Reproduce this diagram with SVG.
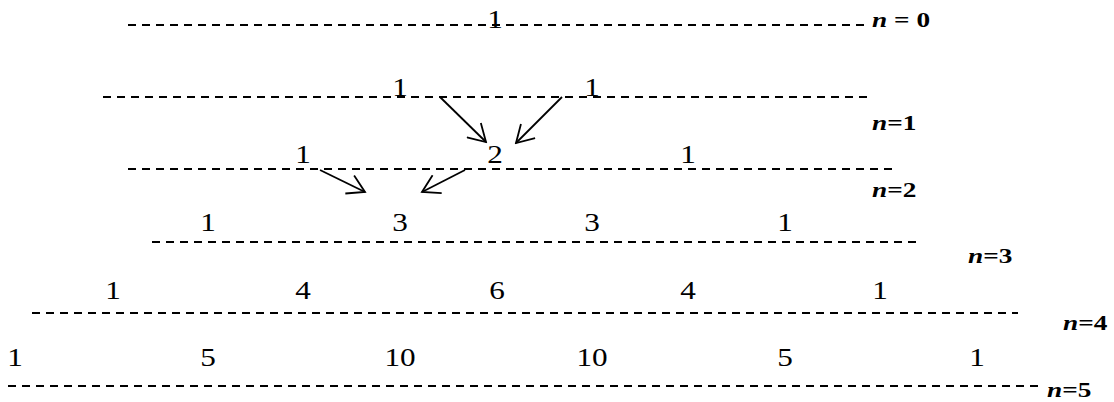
<svg xmlns="http://www.w3.org/2000/svg" width="1114" height="402" viewBox="0 0 1114 402">
<defs>
<style>
.row{stroke:#000;stroke-width:2;stroke-dasharray:8 6;fill:none}
.num{font-family:'Liberation Serif','DejaVu Serif',serif;font-size:26px;fill:#000;text-anchor:middle}
.lab{font-family:'Liberation Serif','DejaVu Serif',serif;font-size:21px;font-weight:bold;fill:#000}
.it{font-style:italic}
.arr{stroke:#000;stroke-width:1.8;fill:none;marker-end:url(#head)}
</style>
<marker id="head" viewBox="0 0 22 22" refX="20" refY="11" markerWidth="22" markerHeight="22" markerUnits="userSpaceOnUse" orient="auto">
<path d="M3,1 L20,11 L3,21" fill="none" stroke="#000" stroke-width="1.8"/>
</marker>
</defs>
<rect width="1114" height="402" fill="#fff"/>
<g id="rows">
<line class="row" x1="128" y1="25" x2="868" y2="25"/>
<line class="row" x1="103" y1="97" x2="868" y2="97"/>
<line class="row" x1="128" y1="169" x2="892" y2="169"/>
<line class="row" x1="152" y1="242" x2="917" y2="242"/>
<line class="row" x1="32" y1="313" x2="1018" y2="313"/>
<line class="row" x1="8" y1="386" x2="1038" y2="386"/>
</g>
<g id="connectors">
<line class="arr" x1="440" y1="97" x2="486" y2="142"/>
<line class="arr" x1="562" y1="97" x2="516" y2="143"/>
<line class="arr" x1="320" y1="170" x2="365" y2="192"/>
<line class="arr" x1="465" y1="170" x2="422" y2="192"/>
</g>
<g id="row0">
<text class="num" transform="translate(495,28) scale(1.2,1)">1</text>
</g>
<g id="row1">
<text class="num" transform="translate(400,96) scale(1.2,1)">1</text>
<text class="num" transform="translate(592,96) scale(1.2,1)">1</text>
</g>
<g id="row2">
<text class="num" transform="translate(303,163) scale(1.2,1)">1</text>
<text class="num" transform="translate(495,163) scale(1.2,1)">2</text>
<text class="num" transform="translate(688,163) scale(1.2,1)">1</text>
</g>
<g id="row3">
<text class="num" transform="translate(208,231) scale(1.2,1)">1</text>
<text class="num" transform="translate(400,231) scale(1.2,1)">3</text>
<text class="num" transform="translate(592,231) scale(1.2,1)">3</text>
<text class="num" transform="translate(785,231) scale(1.2,1)">1</text>
</g>
<g id="row4">
<text class="num" transform="translate(113,299) scale(1.2,1)">1</text>
<text class="num" transform="translate(303,299) scale(1.2,1)">4</text>
<text class="num" transform="translate(497,299) scale(1.2,1)">6</text>
<text class="num" transform="translate(688,299) scale(1.2,1)">4</text>
<text class="num" transform="translate(880,299) scale(1.2,1)">1</text>
</g>
<g id="row5">
<text class="num" transform="translate(15,366) scale(1.2,1)">1</text>
<text class="num" transform="translate(208,366) scale(1.2,1)">5</text>
<text class="num" transform="translate(400,366) scale(1.2,1)">10</text>
<text class="num" transform="translate(592,366) scale(1.2,1)">10</text>
<text class="num" transform="translate(785,366) scale(1.2,1)">5</text>
<text class="num" transform="translate(977,366) scale(1.2,1)">1</text>
</g>
<g id="labels">
<text class="lab" transform="translate(872,27) scale(1.3,1)"><tspan class="it">n</tspan> = 0</text>
<text class="lab" transform="translate(872,130) scale(1.3,1)"><tspan class="it">n</tspan>=1</text>
<text class="lab" transform="translate(872,197) scale(1.3,1)"><tspan class="it">n</tspan>=2</text>
<text class="lab" transform="translate(968,263) scale(1.3,1)"><tspan class="it">n</tspan>=3</text>
<text class="lab" transform="translate(1063,330) scale(1.3,1)"><tspan class="it">n</tspan>=4</text>
<text class="lab" transform="translate(1047,397) scale(1.3,1)"><tspan class="it">n</tspan>=5</text>
</g>
</svg>
